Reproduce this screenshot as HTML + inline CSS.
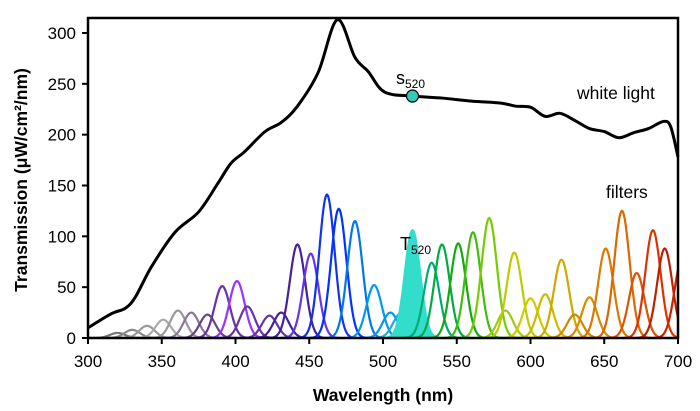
<!DOCTYPE html>
<html><head><meta charset="utf-8"><style>
body{margin:0;background:#fff;}
svg{display:block;font-family:"Liberation Sans",Arial,sans-serif;}
</style></head><body>
<svg id="chart" width="700" height="411" viewBox="0 0 700 411">
<g id="marks"></g>
<rect x="88" y="18" width="590" height="320" fill="none" stroke="#000" stroke-width="2.5"/>
<g id="axes"></g>
<text x="577" y="99" font-size="17.5">white light</text>
<text x="606" y="198" font-size="17.5">filters</text>
<text x="400" y="250" font-size="18">T<tspan font-size="12" dy="4">520</tspan></text>
<text x="396" y="84" font-size="18">s<tspan font-size="12" dy="4">520</tspan></text>
<text x="383" y="401" font-size="17.5" font-weight="bold" text-anchor="middle">Wavelength (nm)</text>
<text transform="translate(27,180) rotate(-90)" font-size="17.5" font-weight="bold" text-anchor="middle">Transmission (μW/cm²/nm)</text>
</svg>
<script>
const whiteNm=[300,316,325,332,343,359,375,388,397,406,420,431,442,456,469,481,490,501,520,540,560,580,590,600,610,620,630,640,650,660,670,680,690,695,700];
const whiteVal=[10,24,29,40,70,104,124,152,172,183,203,212,228,261,313,276,262,242,238,236,233,231,228,227,218,221,214,206,203,197,202,206,213,208,178];
const filterNm=[320,330,340,351,361,370,381,391,401,408,423,431,442,451,462,470,481,494,505,512,520,533,540,551,561,572,583,589,600,610,621,630,640,651,662,672,683,691,703];
const filterPeak=[5,8,12,18,27,25,23,51,56,31,22,25,92,83,141,127,115,52,25,24,106,74,92,93,104,118,27,84,39,43,77,23,40,88,125,64,106,88,80];
const filterColor=['#777','#888','#999','#aaa','#999','#887799','#664488','#6633aa','#9933ff','#6633aa','#6633aa','#442299','#442299','#6633ee','#1133ee','#0033ff','#0077ee','#0099ee','#0099ee','#22aadd','#33ddcc','#00aa77','#00aa44','#11aa11','#44bb11','#77cc00','#99cc11','#bbcc00','#cccc00','#ccbb00','#ccaa00','#cc8800','#dd8800','#dd7700','#dd6600','#dd5500','#dd3300','#bb2200','#cc2200'];
const yTicks=[0,50,100,150,200,250,300];
const xTicks=[300,350,400,450,500,550,600,650,700];
const X=nm=>88+(nm-300)*590/400;
const Y=v=>338-v*305/300;
const NS='http://www.w3.org/2000/svg';
const marks=document.getElementById('marks'), axes=document.getElementById('axes');
function mk(t,a,p){const e=document.createElementNS(NS,t);for(const k in a)e.setAttribute(k,a[k]);p.appendChild(e);return e;}
const sig=5.2;
filterNm.forEach((c,i)=>{
  let d='';
  for(let nm=Math.max(300,c-20);nm<=Math.min(700,c+20);nm+=0.5){
    const v=filterPeak[i]*Math.exp(-((nm-c)**2)/(2*sig*sig));
    d+=(d?'L':'M')+X(nm).toFixed(2)+','+Y(v).toFixed(2);
  }
  const isT=c===520;
  if(isT){
    const f=mk('path',{d:d+'L'+X(Math.min(700,c+20))+','+Y(0)+'L'+X(c-20)+','+Y(0)+'Z',fill:'#33ddcc'},marks);
    
    
  }
  const p=mk('path',{d:d,fill:'none',stroke:filterColor[i],'stroke-width':2.2},marks);
  
  
});
let pts=whiteNm.map((n,i)=>[X(n),Y(whiteVal[i])]);
let d='M'+pts[0][0]+','+pts[0][1];
for(let i=0;i<pts.length-1;i++){
  const p0=pts[Math.max(0,i-1)],p1=pts[i],p2=pts[i+1],p3=pts[Math.min(pts.length-1,i+2)];
  const c1=[p1[0]+(p2[0]-p0[0])/6,p1[1]+(p2[1]-p0[1])/6],c2=[p2[0]-(p3[0]-p1[0])/6,p2[1]-(p3[1]-p1[1])/6];
  d+='C'+c1.join(',')+' '+c2.join(',')+' '+p2.join(',');
}
const wl=mk('path',{d:d,fill:'none',stroke:'#000','stroke-width':3},marks);


const m=mk('circle',{cx:X(520),cy:Y(238),r:6,fill:'#33ccbb',stroke:'#000','stroke-width':1.2},marks);


yTicks.forEach(v=>{
  const t=mk('line',{x1:82,x2:88,y1:Y(v),y2:Y(v),stroke:'#000','stroke-width':2},axes);
  
  
  const l=mk('text',{x:76,y:Y(v)+6,'font-size':17,'text-anchor':'end'},axes);
  l.textContent=v;
  
  
});
xTicks.forEach(v=>{
  const t=mk('line',{x1:X(v),x2:X(v),y1:338,y2:344,stroke:'#000','stroke-width':2},axes);
  
  
  const l=mk('text',{x:X(v),y:367,'font-size':17,'text-anchor':'middle'},axes);
  l.textContent=v;
  
  
});
</script>
</body></html>
